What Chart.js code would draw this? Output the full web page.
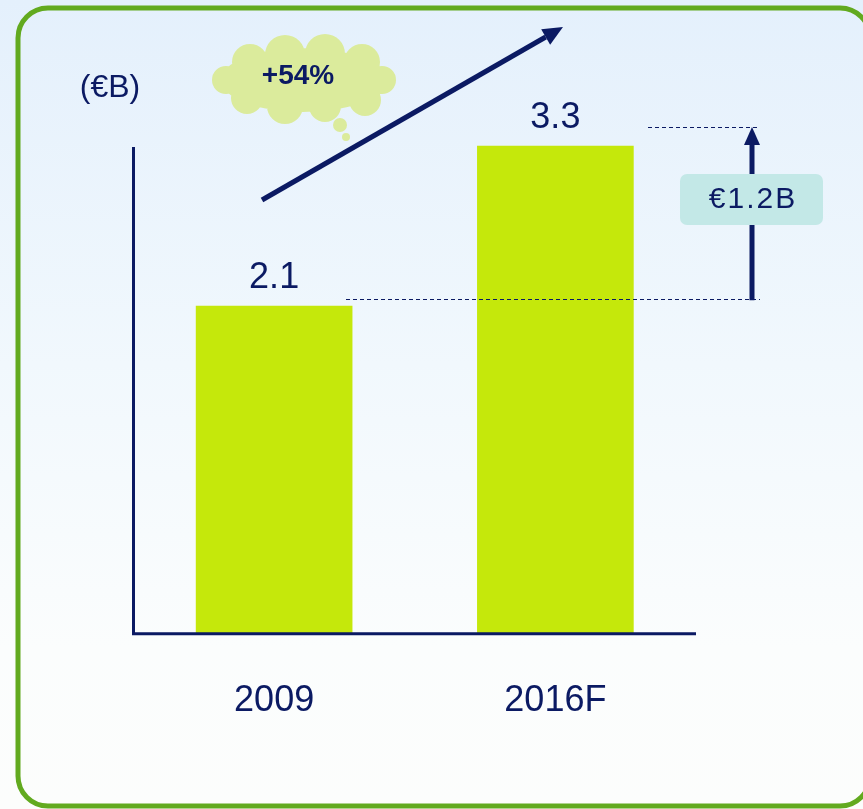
<!DOCTYPE html>
<html lang="en">
<head>
  <meta charset="UTF-8">
  <title>Revenue growth</title>
  <script src="https://cdn.jsdelivr.net/npm/chart.js@4.4.0/dist/chart.umd.min.js"></script>
  <style>
    html, body { margin: 0; padding: 0; background: #eef4f8; }
    #mychart { display: block; }
  </style>
</head>
<body>
  <canvas id="mychart" width="863" height="809"></canvas>

  <script type="text/javascript">
    // data
    const categories = ['2009', '2016F'];
    const revenue = [2.1, 3.3];
    const unitLabel = '(€B)';
    const growthLabel = '+54%';
    const deltaLabel = '€1.2B';

    // value axis range (axis itself hidden)
    const yMin = -0.356;
    const yMax = 4.245;

    const navy = '#0b1a63';
    const barColor = '#c5e80b';
    const font = "'Liberation Sans', Arial, sans-serif";

    function roundRect(ctx, x, y, w, h, r) {
      ctx.beginPath();
      ctx.moveTo(x + r, y);
      ctx.lineTo(x + w - r, y);
      ctx.arcTo(x + w, y, x + w, y + r, r);
      ctx.lineTo(x + w, y + h - r);
      ctx.arcTo(x + w, y + h, x + w - r, y + h, r);
      ctx.lineTo(x + r, y + h);
      ctx.arcTo(x, y + h, x, y + h - r, r);
      ctx.lineTo(x, y + r);
      ctx.arcTo(x, y, x + r, y, r);
      ctx.closePath();
    }

    function arrow(ctx, x1, y1, x2, y2, width, headLen, headHalf) {
      const ang = Math.atan2(y2 - y1, x2 - x1);
      const bx = x2 - headLen * Math.cos(ang);
      const by = y2 - headLen * Math.sin(ang);
      ctx.strokeStyle = navy;
      ctx.fillStyle = navy;
      ctx.lineWidth = width;
      ctx.beginPath();
      ctx.moveTo(x1, y1);
      ctx.lineTo(bx, by);
      ctx.stroke();
      ctx.beginPath();
      ctx.moveTo(x2, y2);
      ctx.lineTo(bx + headHalf * Math.sin(ang), by - headHalf * Math.cos(ang));
      ctx.lineTo(bx - headHalf * Math.sin(ang), by + headHalf * Math.cos(ang));
      ctx.closePath();
      ctx.fill();
    }

    const backdrop = {
      id: 'backdrop',
      beforeDraw(chart) {
        const ctx = chart.ctx;
        ctx.save();
        let g = ctx.createLinearGradient(0, 0, 0, chart.height);
        g.addColorStop(0, '#e4f0fc');
        g.addColorStop(0.45, '#f1f8fd');
        g.addColorStop(0.8, '#fbfdfd');
        g.addColorStop(1, '#fcfdfc');
        ctx.fillStyle = g;
        ctx.fillRect(0, 0, chart.width, chart.height);
        // green frame
        roundRect(ctx, 18, 8, 852, 798, 30);
        ctx.lineWidth = 5;
        ctx.strokeStyle = '#62aa1f';
        ctx.stroke();
        ctx.restore();
      }
    };

    const extras = {
      id: 'extras',
      afterDraw(chart) {
        const ctx = chart.ctx;
        const area = chart.chartArea;
        const y = chart.scales.y;
        const bars = chart.getDatasetMeta(0).data;
        ctx.save();

        // axes
        ctx.strokeStyle = navy;
        ctx.lineWidth = 3;
        ctx.beginPath();
        ctx.moveTo(area.left, y.getPixelForValue(revenue[1]) + 1);
        ctx.lineTo(area.left, area.bottom);
        ctx.lineTo(area.right, area.bottom);
        ctx.stroke();

        // value labels
        ctx.fillStyle = navy;
        ctx.font = '36px ' + font;
        ctx.textAlign = 'center';
        ctx.textBaseline = 'middle';
        bars.forEach((b, i) => {
          ctx.fillText(revenue[i].toFixed(1), b.x, b.y - 28);
        });

        // unit
        ctx.font = '32px ' + font;
        ctx.fillText(unitLabel, 110, 88);

        // dashed guides
        const yLow = y.getPixelForValue(revenue[0]) - 7;
        const yHigh = y.getPixelForValue(revenue[1]) - 19;
        ctx.lineWidth = 1.2;
        ctx.setLineDash([4, 3]);
        ctx.beginPath();
        ctx.moveTo(346, Math.round(yLow) + 0.5);
        ctx.lineTo(760, Math.round(yLow) + 0.5);
        ctx.moveTo(648, Math.round(yHigh) + 0.5);
        ctx.lineTo(758, Math.round(yHigh) + 0.5);
        ctx.stroke();
        ctx.setLineDash([]);

        // difference arrow + box
        arrow(ctx, 752, yLow + 1, 752, yHigh, 5, 18, 8);
        roundRect(ctx, 680, 174, 143, 51, 7);
        ctx.fillStyle = '#c3e8e7';
        ctx.fill();
        ctx.fillStyle = navy;
        ctx.font = '30px ' + font;
        ctx.letterSpacing = '2px';
        ctx.fillText(deltaLabel, 753, 200);
        ctx.letterSpacing = '0px';

        // growth arrow
        arrow(ctx, 262, 200, 563, 27, 5, 20, 9);

        // cloud
        ctx.fillStyle = '#dbeb9c';
        ctx.beginPath();
        ctx.ellipse(303, 80, 82, 32, 0, 0, Math.PI * 2);
        [[250, 62, 18], [285, 55, 20], [325, 54, 20], [362, 62, 18], [382, 80, 14],
         [365, 100, 16], [325, 106, 16], [285, 106, 18], [247, 98, 16], [226, 80, 14]]
          .forEach(c => {
            ctx.moveTo(c[0] + c[2], c[1]);
            ctx.arc(c[0], c[1], c[2], 0, Math.PI * 2);
          });
        ctx.fill();
        ctx.beginPath();
        ctx.arc(340, 125, 7, 0, Math.PI * 2);
        ctx.fill();
        ctx.beginPath();
        ctx.arc(346, 137, 4, 0, Math.PI * 2);
        ctx.fill();
        ctx.fillStyle = navy;
        ctx.font = 'bold 28px ' + font;
        ctx.fillText(growthLabel, 298, 76);

        ctx.restore();
      }
    };

    const data = {
      labels: categories,
      datasets: [{
        data: revenue,
        base: yMin,
        backgroundColor: barColor,
        barThickness: 156,
      }]
    };

    const config = {
      type: 'bar',
      data: data,
      options: {
        responsive: false,
        animation: false,
        events: [],
        layout: { padding: { left: 133.5, right: 167, top: 20, bottom: 40 } },
        plugins: {
          legend: { display: false },
          tooltip: { enabled: false },
        },
        scales: {
          x: {
            grid: { display: false, drawTicks: false },
            border: { display: false },
            ticks: { color: navy, padding: 46, font: { family: font, size: 36 } },
          },
          y: {
            display: false,
            min: yMin,
            max: yMax,
          },
        },
      },
      plugins: [backdrop, extras],
    };

    var myChart = new Chart(document.getElementById('mychart'), config);
  </script>
</body>
</html>
